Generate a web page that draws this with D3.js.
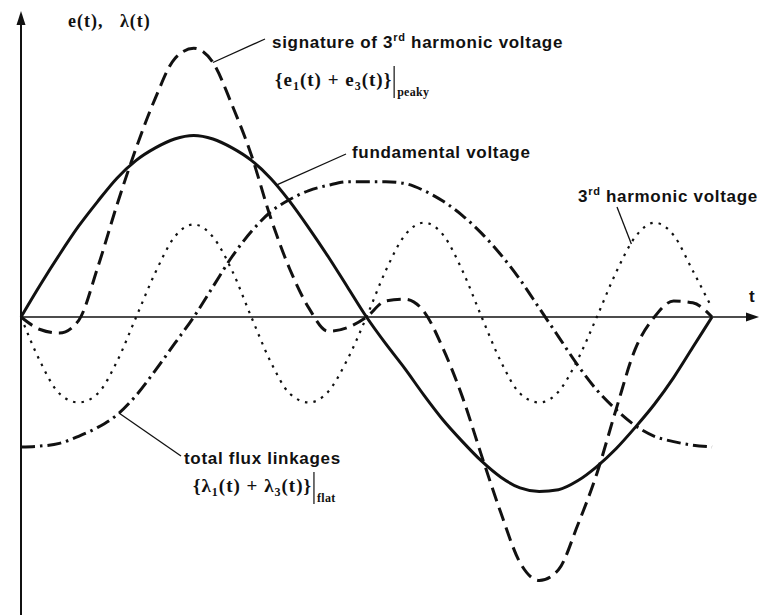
<!DOCTYPE html>
<html>
<head>
<meta charset="utf-8">
<script src="https://cdn.jsdelivr.net/npm/d3@7"></script>
<style>
body { margin: 0; background: #fff; }
svg { display: block; }
.lbl { font-family: "Liberation Sans", Arial, sans-serif; font-weight: bold; font-size: 17px; letter-spacing: 0.7px; fill: #111; }
.math { font-family: "Liberation Serif", "Times New Roman", serif; font-weight: bold; font-size: 19px; letter-spacing: 1px; fill: #111; white-space: pre; }
</style>
</head>
<body>
<svg></svg>
<script>
// electrical angle (deg) over one cycle
var angles = [0, 10, 20, 30, 40, 50, 60, 70, 80, 90, 100, 110, 120, 130, 140, 150, 160, 170, 180,
              190, 200, 210, 220, 230, 240, 250, 260, 270, 280, 290, 300, 310, 320, 330, 340, 350, 360];

// values (fundamental peak = 1)
var fundamental = [0, .18, .35, .51, .65, .78, .88, .95, 1.0, 1.02, 1.0, .95, .88, .78, .65, .50, .34, .17, 0,
                   -.15, -.29, -.44, -.58, -.70, -.81, -.90, -.96, -.98, -.97, -.92, -.84, -.74, -.62, -.49, -.34, -.17, 0];
var peaky = [0, -.07, -.09, -.02, .28, .63, .95, 1.23, 1.45, 1.51, 1.43, 1.19, .91, .56, .27, .05, -.08, -.06, 0,
             .09, .10, .03, -.18, -.45, -.78, -1.10, -1.38, -1.48, -1.42, -1.17, -.88, -.52, -.18, 0, .09, .08, 0];
var third = [0, -.25, -.43, -.48, -.43, -.25, 0, .25, .45, .52, .45, .26, 0, -.25, -.43, -.48, -.42, -.24, 0,
             .26, .46, .53, .46, .26, 0, -.25, -.43, -.48, -.42, -.24, 0, .25, .45, .53, .46, .26, .05];
var flux = [-.73, -.725, -.71, -.67, -.62, -.55, -.44, -.30, -.15, 0, .17, .34, .48, .59, .66, .71, .74, .76, .76,
            .76, .75, .71, .65, .57, .47, .35, .21, .05, -.11, -.27, -.41, -.52, -.61, -.67, -.70, -.72, -.73];

var width = 760, height = 615;
var svg = d3.select("svg").attr("width", width).attr("height", height);

var x = d3.scaleLinear().domain([0, 360]).range([21, 712]);
var y = d3.scaleLinear().domain([-1.674, 1.781]).range([615, 0]);

var ink = "#111";

// axes
svg.append("line")
    .attr("x1", x(0)).attr("y1", y(0)).attr("x2", 752).attr("y2", y(0))
    .attr("stroke", ink).attr("stroke-width", 1.6);
svg.append("path")
    .attr("d", "M759," + y(0) + "L746," + (y(0) - 4.5) + "L746," + (y(0) + 4.5) + "Z")
    .attr("fill", ink);
svg.append("line")
    .attr("x1", x(0)).attr("y1", height).attr("x2", x(0)).attr("y2", 20)
    .attr("stroke", ink).attr("stroke-width", 2);
svg.append("path")
    .attr("d", "M" + x(0) + ",11L" + (x(0) - 4.5) + ",25L" + (x(0) + 4.5) + ",25Z")
    .attr("fill", ink);

var line = d3.line()
    .x(function(d, i){ return x(angles[i]); })
    .y(function(d){ return y(d); })
    .curve(d3.curveMonotoneX);

var curves = [
    {values: third, width: 2.2, dash: "2.5,6"},
    {values: flux, width: 3, dash: "14,5,2.5,5"},
    {values: peaky, width: 3, dash: "14,7"},
    {values: fundamental, width: 3, dash: null}
];

svg.selectAll("path.curve")
    .data(curves)
    .enter()
    .append("path")
    .attr("class", "curve")
    .attr("d", function(d){ return line(d.values); })
    .attr("fill", "none")
    .attr("stroke", ink)
    .attr("stroke-width", function(d){ return d.width; })
    .attr("stroke-dasharray", function(d){ return d.dash; })
    .attr("stroke-linecap", "butt");

// leader lines: start on a curve (angle, series), end near its label
function valueAt(series, a){
    var i = Math.min(Math.floor(a / 10), angles.length - 2);
    var t = (a - angles[i]) / 10;
    return series[i] + (series[i + 1] - series[i]) * t;
}
var leaders = [
    {series: peaky, angle: 100, to: [265, 39]},
    {series: fundamental, angle: 133, to: [346, 154]},
    {series: third, angle: 318, to: [617, 207]},
    {series: flux, angle: 51, to: [181, 456]}
];
svg.selectAll("line.leader")
    .data(leaders)
    .enter()
    .append("line")
    .attr("class", "leader")
    .attr("x1", function(d){ return x(d.angle); })
    .attr("y1", function(d){ return y(valueAt(d.series, d.angle)); })
    .attr("x2", function(d){ return d.to[0]; })
    .attr("y2", function(d){ return d.to[1]; })
    .attr("stroke", ink).attr("stroke-width", 1.3);

// labels
var t1 = svg.append("text").attr("class", "lbl").attr("x", 272).attr("y", 48);
t1.append("tspan").text("signature of 3");
t1.append("tspan").attr("dy", -7).attr("font-size", 11).text("rd");
t1.append("tspan").attr("dy", 7).text(" harmonic voltage");

var t2 = svg.append("text").attr("class", "lbl").attr("x", 578).attr("y", 202);
t2.append("tspan").text("3");
t2.append("tspan").attr("dy", -7).attr("font-size", 11).text("rd");
t2.append("tspan").attr("dy", 7).text(" harmonic voltage");

svg.append("text").attr("class", "lbl").attr("x", 352).attr("y", 158).text("fundamental voltage");
svg.append("text").attr("class", "lbl").attr("x", 184).attr("y", 464).text("total flux linkages");
svg.append("text").attr("class", "lbl").attr("x", 749).attr("y", 302).text("t");

svg.append("text").attr("class", "math").attr("x", 68).attr("y", 27)
    .style("font-size", "18px")
    .text("e(t),\u00a0\u00a0 \u03bb(t)");

function formula(px, py, sym, subText){
    var f = svg.append("text").attr("class", "math").attr("x", px).attr("y", py);
    f.append("tspan").text("{" + sym);
    f.append("tspan").attr("dy", 4).attr("font-size", 12).text("1");
    f.append("tspan").attr("dy", -4).text("(t) + " + sym);
    f.append("tspan").attr("dy", 4).attr("font-size", 12).text("3");
    f.append("tspan").attr("dy", -4).text("(t)}");
    var barX = px + f.node().getComputedTextLength() + 2;
    svg.append("line").attr("x1", barX).attr("x2", barX).attr("y1", py - 20).attr("y2", py + 12)
        .attr("stroke", ink).attr("stroke-width", 1.2);
    svg.append("text").attr("class", "math").attr("x", barX + 3).attr("y", py + 10)
        .style("font-size", "12px").style("letter-spacing", "0.3px").text(subText);
}
formula(275, 86, "e", "peaky");
formula(193, 492, "\u03bb", "flat");
</script>
</body>
</html>
